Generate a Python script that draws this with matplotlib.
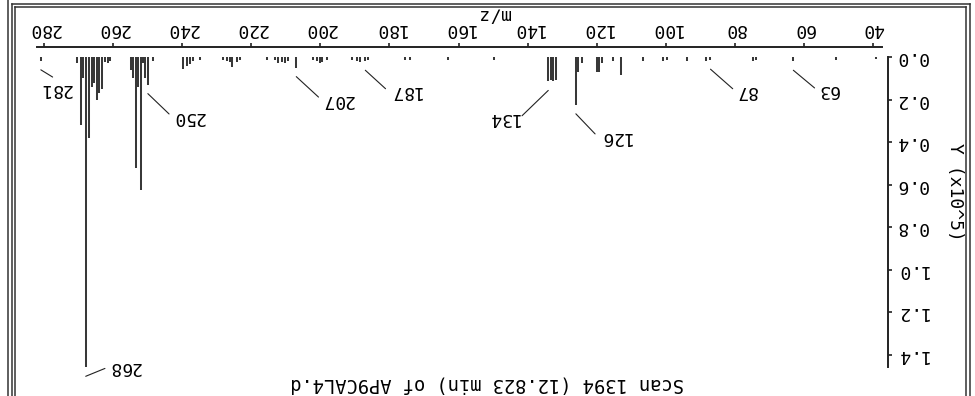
import numpy as np
import matplotlib
matplotlib.use("Agg")
import matplotlib.pyplot as plt
from matplotlib.transforms import offset_copy
from matplotlib.lines import Line2D

# ---------------- data (m/z, abundance in units of 10^5) ----------------
mz = [281.0,
      270.6, 269.4, 268.7, 268.0, 267.0, 266.3, 265.6, 264.8, 264.1, 263.4, 262.4, 261.6, 261.0,
      255.0, 254.2, 253.4, 252.8, 252.1, 251.3, 250.7, 250.0, 248.4,
      239.7, 238.8, 237.9, 236.9, 235.0,
      228.1, 227.2, 226.2, 225.5, 224.3, 223.3,
      215.5, 213.2, 212.2, 211.2, 210.3, 209.3, 207.0,
      202.1, 201.1, 200.1, 199.5, 198.2,
      191.0, 189.5, 188.5, 187.0, 186.2,
      175.5, 174.1, 162.9, 149.8,
      134.0, 133.2, 132.5, 131.7,
      126.0, 125.3, 124.3,
      119.8, 119.2, 118.5, 115.2, 113.0,
      106.5, 100.7, 99.7, 93.9, 88.4, 87.0, 74.6, 73.7, 63.0, 50.5, 39.0]
abundance = [0.018,
             0.03, 0.32, 0.10, 1.46, 0.38, 0.14, 0.12, 0.20, 0.17, 0.15, 0.025, 0.03, 0.02,
             0.06, 0.10, 0.52, 0.14, 0.625, 0.03, 0.10, 0.13, 0.02,
             0.055, 0.04, 0.035, 0.02, 0.015,
             0.015, 0.02, 0.025, 0.045, 0.025, 0.015,
             0.015, 0.015, 0.03, 0.025, 0.03, 0.02, 0.05,
             0.015, 0.02, 0.03, 0.025, 0.015,
             0.015, 0.02, 0.025, 0.02, 0.015,
             0.012, 0.012, 0.015, 0.012,
             0.115, 0.11, 0.115, 0.11,
             0.225, 0.07, 0.03,
             0.07, 0.07, 0.03, 0.02, 0.085,
             0.02, 0.02, 0.012, 0.02, 0.02, 0.015, 0.02, 0.012, 0.02, 0.012, 0.01]
labeled_mz = [281, 268, 250, 207, 187, 134, 126, 87, 63]
x_ticks = [40, 60, 80, 100, 120, 140, 160, 180, 200, 220, 240, 260, 280]
y_ticks = [0.0, 0.2, 0.4, 0.6, 0.8, 1.0, 1.2, 1.4]
title = "Scan 1394 (12.823 min) of AP9CAL4.d"
xlabel = "m/z"
ylabel = "Y (x10^5)"

# ---------------- layout / style ----------------
W, H, DPI = 975, 396, 100
FONT = "DejaVu Sans Mono"
FS = 13
plt.rcParams["font.family"] = [FONT, "DejaVu Sans"]

# leader end offsets (image pixels: +x right, +y down) and label side
leader = {281: (31, 19, "right"), 268: (22, -9, "left"), 250: (24, 23, "left"),
          207: (25, 23, "left"), 187: (23, 21, "left"), 134: (-29, 28, "right"),
          126: (22, 23, "left"), 87: (25, 22, "left"), 63: (24, 20, "left")}
GAP = 9  # px between bar end and leader start

fig = plt.figure(figsize=(W / DPI, H / DPI), dpi=DPI)
ax_left, ax_right, ax_top, ax_bot = 36.7, 881.7, 57.0, 367.3
ax = fig.add_axes([ax_left / W, 1 - ax_bot / H, (ax_right - ax_left) / W, (ax_bot - ax_top) / H])

ax.vlines(mz, 0, abundance, colors="#383838", linewidth=1.45)
ax.set_xlim(282.2, 37.4)
ax.set_ylim(1.46, 0)

for s in ("left", "bottom"):
    ax.spines[s].set_visible(False)
ax.spines["top"].set_position(("outward", 7))
ax.spines["right"].set_position(("outward", 4.3))
for s in ("top", "right"):
    ax.spines[s].set_linewidth(1.4)
    ax.spines[s].set_color("#222222")

ax.xaxis.tick_top()
ax.yaxis.tick_right()
ax.set_xticks(x_ticks)
ax.set_xticklabels([str(v) for v in x_ticks])
ax.set_yticks(y_ticks)
ax.set_yticklabels(["%.1f" % v for v in y_ticks])
ax.tick_params(axis="x", direction="out", length=3, width=1.2, color="#222222",
               labelsize=FS, labelrotation=180, pad=3.4)
ax.tick_params(axis="y", direction="out", length=3, width=1.2, color="#222222",
               labelsize=FS, labelrotation=180, pad=2.2)
plt.setp(ax.get_yticklabels(), va="center")

start_tr = offset_copy(ax.transData, fig=fig, x=0, y=-GAP, units="dots")
for m in labeled_mz:
    i = int(np.argmin([abs(v - m) for v in mz]))
    dx, dy, side = leader[m]
    ha = "left" if side == "left" else "right"
    ax.annotate(str(m), xy=(mz[i], abundance[i]), xycoords=start_tr,
                xytext=(dx, -dy), textcoords="offset pixels",
                rotation=180, ha=ha, va="center", fontsize=FS, family=FONT,
                arrowprops=dict(arrowstyle="-", color="#222222", lw=0.8,
                                shrinkA=0, shrinkB=0,
                                relpos=(0.0 if side == "left" else 1.0, 0.5)))

# axis titles and scan title (upside-down page)
fig.text(487.5 / W, 1 - 384 / H, title, rotation=180, ha="center", va="center",
         fontsize=13.5, family=FONT)
fig.text(494 / W, 1 - 14 / H, xlabel, rotation=180, ha="center", va="center",
         fontsize=FS, family=FONT)
fig.text(955 / W, 1 - 192 / H, ylabel, rotation=270, ha="center", va="center",
         fontsize=FS, family=FONT)

# double frame
def fline(x0, y0, x1, y1):
    fig.add_artist(Line2D([x0 / W, x1 / W], [1 - y0 / H, 1 - y1 / H],
                          transform=fig.transFigure, color="#333333", lw=1.1))

fline(8, 0, 8, H)
fline(12, 4, 12, H)
fline(12, 4, 970, 4)
fline(970, 4, 970, H)
fline(15, 7, 966, 7)
fline(15, 7, 15, H)
fline(966, 7, 966, H)

fig.savefig("out.png", dpi=DPI)
